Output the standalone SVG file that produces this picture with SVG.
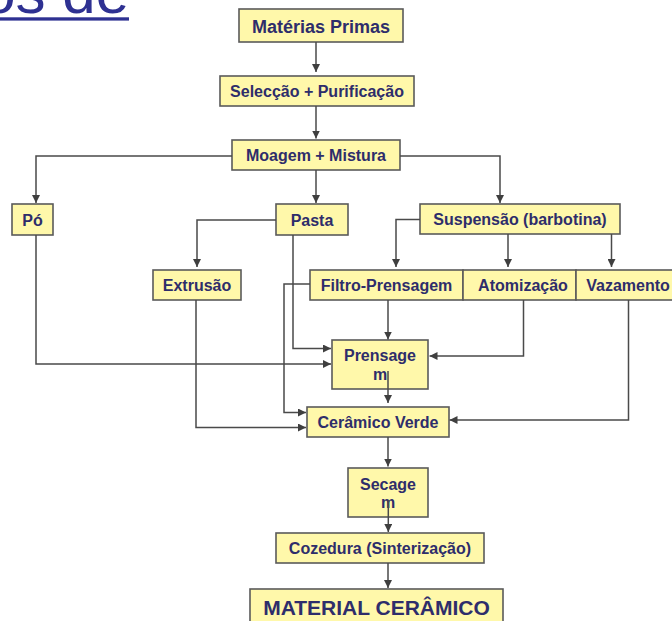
<svg xmlns="http://www.w3.org/2000/svg" width="672" height="621" viewBox="0 0 672 621">
<defs>
<marker id="ah" markerUnits="userSpaceOnUse" viewBox="0 0 10 10" markerWidth="8" markerHeight="8" refX="10" refY="5" orient="auto">
<path d="M0,0 L10,5 L0,10 z" fill="#3f3f3f"/>
</marker>
<style>
.box{fill:#FFF8AA;stroke:#5a5a5a;stroke-width:1.6}
.t{font-family:"Liberation Sans",Arial,sans-serif;font-weight:bold;font-size:16px;fill:#2E2D6B;text-anchor:middle}
.c{fill:none;stroke:#4a4a4a;stroke-width:1.5;marker-end:url(#ah)}
.cn{fill:none;stroke:#4a4a4a;stroke-width:1.5}
</style>
</defs>
<rect width="672" height="621" fill="#ffffff"/>
<g id="title">
<text x="129" y="12.5" font-family="Liberation Sans, Arial, sans-serif" font-size="60" fill="#2E3192" text-anchor="end">os de</text>
<rect x="0" y="17.3" width="129" height="3.3" fill="#2E3192"/>
</g>
<g id="n-materias"><rect class="box" x="239" y="9" width="164" height="33"/><text class="t" x="321" y="32.5" style="font-size:18px">Matérias Primas</text></g>
<g id="n-seleccao"><rect class="box" x="220" y="76" width="194" height="30"/><text class="t" x="317" y="96.8">Selecção + Purificação</text></g>
<g id="n-moagem"><rect class="box" x="232" y="140" width="168" height="30"/><text class="t" x="316" y="160.8">Moagem + Mistura</text></g>
<g id="n-po"><rect class="box" x="12" y="204" width="41" height="31"/><text class="t" x="32.5" y="225.6">Pó</text></g>
<g id="n-pasta"><rect class="box" x="276" y="204" width="72" height="31"/><text class="t" x="312" y="225.6">Pasta</text></g>
<g id="n-suspensao"><rect class="box" x="420" y="204" width="200" height="30"/><text class="t" x="520" y="225.3">Suspensão (barbotina)</text></g>
<g id="n-extrusao"><rect class="box" x="153" y="270" width="88" height="30"/><text class="t" x="197" y="290.8">Extrusão</text></g>
<g id="n-filtro"><rect class="box" x="310" y="270" width="153" height="30"/><text class="t" x="386.5" y="290.8">Filtro-Prensagem</text></g>
<g id="n-atomizacao"><rect class="box" x="463" y="270" width="113" height="30"/><text class="t" x="523" y="290.8">Atomização</text></g>
<g id="n-vazamento"><rect class="box" x="576" y="270" width="104" height="30"/><text class="t" x="628" y="290.8">Vazamento</text></g>
<g id="n-prensagem"><rect class="box" x="332" y="340" width="96" height="49"/><text class="t" x="380" y="361">Prensage</text><text class="t" x="380" y="379.5">m</text></g>
<g id="n-ceramico-verde"><rect class="box" x="307" y="407" width="142" height="30"/><text class="t" x="378" y="427.6">Cerâmico Verde</text></g>
<g id="n-secagem"><rect class="box" x="348" y="468" width="80" height="49"/><text class="t" x="388" y="489.5">Secage</text><text class="t" x="388" y="508">m</text></g>
<g id="n-cozedura"><rect class="box" x="276" y="533" width="208" height="30"/><text class="t" x="380" y="553.6">Cozedura (Sinterização)</text></g>
<g id="n-material"><rect class="box" x="250" y="589" width="253" height="40"/><text class="t" x="376.5" y="615" style="font-size:21px">MATERIAL CERÂMICO</text></g>
<g id="connectors">
<path class="c" d="M316,42 V72"/>
<path class="c" d="M316,106 V138.5"/>
<path class="c" d="M232,156 H36 V203"/>
<path class="c" d="M316,170 V203"/>
<path class="c" d="M400,156 H500 V203"/>
<path class="c" d="M276,220 H197 V267"/>
<path class="c" d="M420,219.5 H396 V267"/>
<path class="c" d="M508,234 V267"/>
<path class="c" d="M611.5,234 V267"/>
<path class="c" d="M293,235 V348.5 H331"/>
<path class="c" d="M36,235 V364 H331"/>
<path class="c" d="M388,300 V339.5"/>
<path class="c" d="M310,284 H284 V412.5 H306"/>
<path class="c" d="M523.5,300 V356 H429.5"/>
<path class="c" d="M196,300 V427.5 H306"/>
<path class="c" d="M628.5,300 V420 H449.5"/>
<path class="c" d="M388,371 V403"/>
<path class="c" d="M388,437 V466.5"/>
<path class="c" d="M388.3,500 V532"/>
<path class="c" d="M388,563 V588"/>
</g>
</svg>
